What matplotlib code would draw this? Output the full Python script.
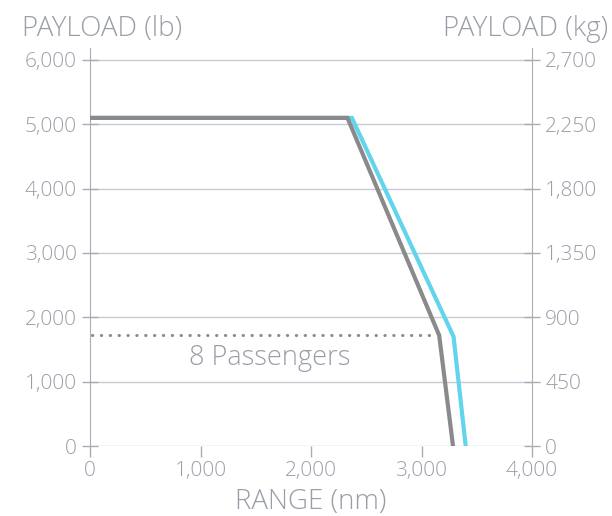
import matplotlib
matplotlib.use("Agg")
import matplotlib.pyplot as plt
from matplotlib import font_manager as fm

# Data
gray_range = [0, 2330, 3160, 3285]
gray_payload = [5100, 5100, 1720, 0]
cyan_range = [0, 2370, 3290, 3400]
cyan_payload = [5100, 5100, 1700, 0]
pax_range = [20, 3120]
pax_payload = [1720, 1720]
pax_label = "8 Passengers"

x_ticks = [0, 1000, 2000, 3000, 4000]
y_ticks_lb = [0, 1000, 2000, 3000, 4000, 5000, 6000]
y_ticks_kg = [0, 450, 900, 1350, 1800, 2250, 2700]

TXT = "#9a9ea8"
SPINE = "#a9adb5"
GRID = "#c8cbd3"
GRAY = "#8a8a8d"
CYAN = "#62d4ec"

names = {f.name: [] for f in fm.fontManager.ttflist}
for f in fm.fontManager.ttflist:
    names[f.name].append(f.weight)
fam = 'Open Sans'
W = 'light'
if not any((isinstance(w, int) and w <= 300) or w in ('light', 'extra light') for w in names.get('Open Sans', [])):
    if any((isinstance(w, int) and w <= 300) or w in ('light',) for w in names.get('Lato', [])):
        fam = 'Lato'
    else:
        W = 'normal'

plt.rcParams['font.family'] = [fam, 'DejaVu Sans']
plt.rcParams['font.weight'] = W

fig = plt.figure(figsize=(6.12, 5.16), dpi=100)
top_px = 48
ymax = 6000 + (60 - top_px) / ((446 - 60) / 6000.0)
ax = fig.add_axes([90/612, 1-446/516, (532-90)/612, (446-top_px)/516])

ax.set_xlim(0, 4000)
ax.set_ylim(0, ymax)
for yv in y_ticks_lb:
    ax.axhline(yv, color=GRID, lw=1.0, zorder=1)

ax.plot(cyan_range, cyan_payload, color=CYAN, lw=3.0, zorder=3, solid_joinstyle='miter')
ax.plot(gray_range, gray_payload, color=GRAY, lw=3.0, zorder=4, solid_joinstyle='miter')
ax.plot(pax_range, pax_payload, color=GRAY, lw=2.2, linestyle=(0, (0.1, 2.8)),
        dash_capstyle='round', zorder=4)
ax.text(1625, 1370, pax_label, color=TXT, fontsize=19.5, ha='center', va='center', weight=W)

for s in ['top', 'right', 'bottom']:
    ax.spines[s].set_visible(False)
ax.spines['left'].set_color(SPINE)

ax.set_xticks(x_ticks)
ax.set_xticklabels([f"{v:,}" for v in x_ticks])
ax.set_yticks(y_ticks_lb)
ax.set_yticklabels([f"{v:,}" for v in y_ticks_lb])
ax.tick_params(axis='y', direction='inout', length=11, width=1, color=SPINE,
               labelcolor=TXT, labelsize=15, pad=4)
ax.tick_params(axis='x', direction='out', length=8, width=1, color=SPINE,
               labelcolor=TXT, labelsize=15, pad=3)

ax2 = ax.twinx()
ax2.set_ylim(0, ymax * 0.45)
ax2.set_yticks(y_ticks_kg)
ax2.set_yticklabels([f"{v:,}" for v in y_ticks_kg])
for s in ['top', 'left', 'bottom']:
    ax2.spines[s].set_visible(False)
ax2.spines['right'].set_color(SPINE)
ax2.tick_params(axis='y', direction='inout', length=11, width=1, color=SPINE,
                labelcolor=TXT, labelsize=15, pad=4)

ax.set_xlabel("RANGE (nm)", color=TXT, fontsize=20, labelpad=5, weight=W)
fig.text(22/612, 1-36/516, "PAYLOAD (lb)", color=TXT, fontsize=20, ha='left', va='baseline', weight=W)
fig.text(608/612, 1-36/516, "PAYLOAD (kg)", color=TXT, fontsize=20, ha='right', va='baseline', weight=W)

fig.savefig("out.png", dpi=100, facecolor='white')
